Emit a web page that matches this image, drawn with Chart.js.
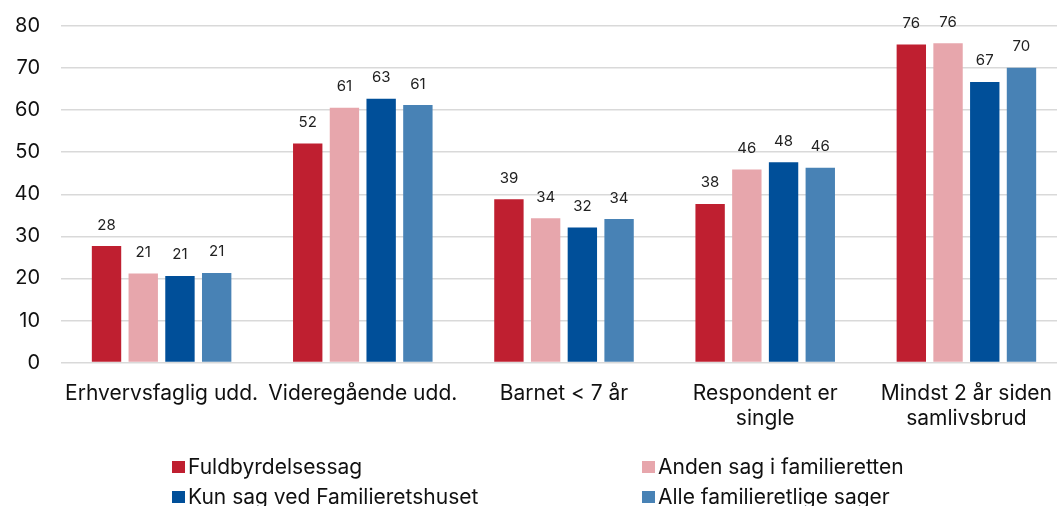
<!DOCTYPE html>
<html>
<head>
<meta charset="utf-8">
<script src="https://cdn.jsdelivr.net/npm/chart.js@4/dist/chart.umd.min.js"></script>
<style>
  html, body { margin: 0; padding: 0; background: #fff; overflow: hidden; }
  #wrap { position: relative; width: 1067px; height: 443px; }
  #legend { position: absolute; left: 0; top: 0; width: 1057px; height: 506px; font-family: Inter, "Liberation Sans", sans-serif; font-size: 21px; color: #111; }
  .item { position: absolute; display: flex; align-items: center; white-space: nowrap; line-height: 26px; }
  .box { width: 13px; height: 12px; margin-right: 3px; }
</style>
</head>
<body>
<div id="wrap"><canvas id="chart"></canvas></div>
<div id="legend"></div>
<script>
document.addEventListener('DOMContentLoaded', function () {

    // data
    const kategorier = ['Erhvervsfaglig udd.', 'Videregående udd.', 'Barnet < 7 år', ['Respondent er', 'single'], ['Mindst 2 år siden', 'samlivsbrud']];
    const serier = ['Fuldbyrdelsessag', 'Anden sag i familieretten', 'Kun sag ved Familieretshuset', 'Alle familieretlige sager'];
    const fuldbyrdelse = [27.7, 52.1, 38.8, 37.7, 75.6];
    const andenSag = [21.2, 60.6, 34.3, 45.9, 75.9];
    const kunFamilieretshuset = [20.6, 62.7, 32.1, 47.6, 66.7];
    const alleSager = [21.3, 61.2, 34.1, 46.3, 70.1];
    const yTicks = [0, 10, 20, 30, 40, 50, 60, 70, 80];

    const farver = ['#BF1F30', '#E7A6AC', '#004F99', '#4882B5'];
    const values = [fuldbyrdelse, andenSag, kunFamilieretshuset, alleSager];

    const font = "Inter, 'Liberation Sans', sans-serif";

    // labels over bars
    const barLabels = {
        id: 'barLabels',
        afterDatasetsDraw(chart) {
            const ctx = chart.ctx;
            ctx.save();
            ctx.font = '15px ' + font;
            ctx.fillStyle = '#222';
            ctx.textAlign = 'center';
            ctx.textBaseline = 'middle';
            chart.data.datasets.forEach(function (ds, i) {
                chart.getDatasetMeta(i).data.forEach(function (bar, j) {
                    ctx.fillText(Math.round(ds.data[j]), bar.x, bar.y - 21);
                });
            });
            ctx.restore();
        }
    };

    const chart = new Chart(document.getElementById('chart').getContext('2d'), {
        type: 'bar',
        data: {
            labels: kategorier,
            datasets: serier.map(function (navn, i) {
                return {
                    label: navn,
                    data: values[i],
                    backgroundColor: farver[i],
                    borderWidth: 0,
                    categoryPercentage: 0.73,
                    barPercentage: 0.8
                };
            })
        },
        options: {
            responsive: true,
            maintainAspectRatio: false,
            animation: false,
            layout: { padding: { top: 26, right: 0, left: 0, bottom: 2 } },
            plugins: { legend: { display: false }, tooltip: { enabled: false } },
            scales: {
                x: {
                    grid: { display: false },
                    border: { display: false },
                    ticks: { color: '#111', font: { family: font, size: 21, lineHeight: 1.2 }, padding: 10, maxRotation: 0, autoSkip: false }
                },
                y: {
                    min: 0, max: 80,
                    afterBuildTicks: function (axis) { axis.ticks = yTicks.map(function (v) { return { value: v }; }); },
                    afterFit: function (axis) { axis.width = 61; axis.paddingTop = 0; axis.paddingBottom = 0; },
                    grid: { color: '#d9d9d9', lineWidth: 1.5, drawTicks: false },
                    border: { display: false },
                    ticks: { color: '#111', font: { family: font, size: 20 }, padding: 21 }
                }
            }
        },
        plugins: [barLabels]
    });

    // legend, two columns
    const legend = document.getElementById('legend');
    const pos = [[172, 467], [642, 467], [172, 497], [642, 497]];
    chart.data.datasets.forEach(function (ds, i) {
        const el = document.createElement('div');
        el.className = 'item';
        el.style.left = pos[i][0] + 'px';
        el.style.top = (pos[i][1] - 13) + 'px';
        el.innerHTML = '<span class="box" style="background:' + ds.backgroundColor + '"></span>' + ds.label;
        legend.appendChild(el);
    });

});
</script>
</body>
</html>
